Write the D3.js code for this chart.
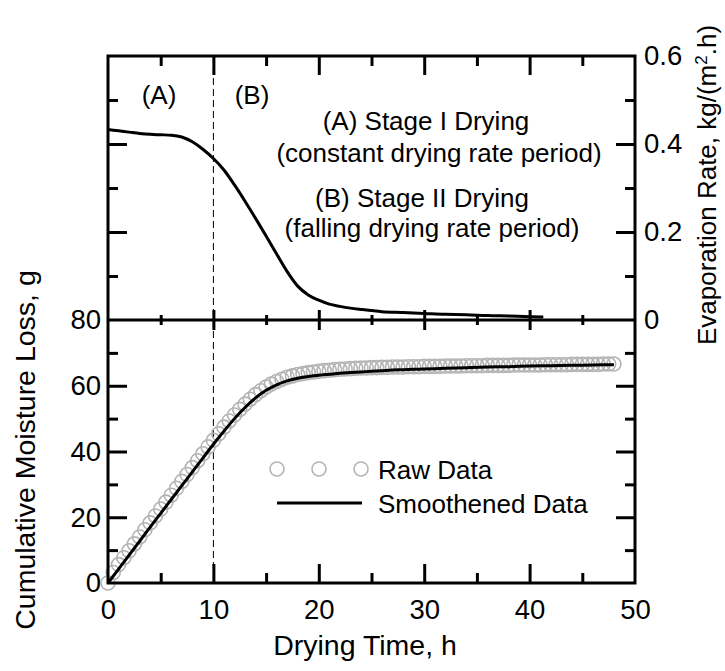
<!DOCTYPE html>
<html>
<head>
<meta charset="utf-8">
<script src="https://cdn.jsdelivr.net/npm/d3@7"></script>
<style>
  body { margin: 0; background: #fff; }
  svg text { font-family: "Liberation Sans", Arial, Helvetica, sans-serif; fill: #000; }
</style>
</head>
<body>
<div id="box"></div>
<script>
// drying time (h) of the smoothed curves
var smoothTime = [0,1,2,3,4,5,6,7,8,9,10,11,12,13,14,15,16,17,18,19,20,21,22,23,24,25,26,27,28,29,30,32,34,36,38,40,42,44,46,48];
var smoothMoisture = [0,4.2,8.5,12.7,17.0,21.2,25.4,29.6,33.8,38.0,42.2,46.2,50.0,53.4,56.3,58.6,60.3,61.5,62.3,62.8,63.2,63.5,63.8,64.0,64.2,64.4,64.6,64.8,64.9,65.0,65.1,65.3,65.5,65.7,65.8,66.0,66.1,66.2,66.3,66.4];

// raw data, one reading every half hour
var rawTime = [0,0.5,1,1.5,2,2.5,3,3.5,4,4.5,5,5.5,6,6.5,7,7.5,8,8.5,9,9.5,10,10.5,11,11.5,12,12.5,13,13.5,14,14.5,15,15.5,16,16.5,17,17.5,18,18.5,19,19.5,20,20.5,21,21.5,22,22.5,23,23.5,24,24.5,25,25.5,26,26.5,27,27.5,28,28.5,29,29.5,30,30.5,31,31.5,32,32.5,33,33.5,34,34.5,35,35.5,36,36.5,37,37.5,38,38.5,39,39.5,40,40.5,41,41.5,42,42.5,43,43.5,44,44.5,45,45.5,46,46.5,47,47.5,48];
var rawMoisture = [0,3.2,5.6,7.7,9.8,11.9,14.0,16.2,18.3,20.4,22.5,24.6,26.7,28.8,30.9,33.0,35.1,37.2,39.3,41.4,43.4,45.4,47.4,49.3,51.1,52.8,54.4,55.9,57.3,58.5,59.6,60.5,61.3,62.0,62.6,63.0,63.4,63.7,64.0,64.2,64.4,64.6,64.7,64.9,65.0,65.1,65.2,65.3,65.4,65.4,65.5,65.5,65.6,65.6,65.7,65.7,65.7,65.8,65.8,65.8,65.9,65.9,65.9,65.9,66.0,66.0,66.0,66.0,66.1,66.1,66.1,66.1,66.2,66.2,66.2,66.2,66.2,66.3,66.3,66.3,66.3,66.3,66.3,66.4,66.4,66.4,66.4,66.4,66.5,66.5,66.5,66.5,66.5,66.5,66.6,66.6,66.6];

// evaporation rate, kg/(m2.h)
var evapTime = [0,1,2,3,4,5,6,7,8,9,10,11,12,13,14,15,16,17,18,19,20,21,22,23,24,26,28,30,32,34,36,38,40,41.3];
var evapRate = [0.433,0.430,0.427,0.424,0.422,0.421,0.420,0.416,0.405,0.388,0.367,0.341,0.307,0.270,0.231,0.191,0.150,0.110,0.077,0.057,0.045,0.036,0.031,0.027,0.024,0.019,0.017,0.015,0.013,0.012,0.010,0.009,0.0075,0.007];

var xMajor = [10,20,30,40];
var xMinor = [5,15,25,35,45];
var xLabels = [0,10,20,30,40,50];
var rateMajor = [0.2,0.4];
var rateMinor = [0.1,0.3,0.5];
var rateLabels = [0,0.2,0.4,0.6];
var moistMajor = [20,40,60];
var moistMinor = [10,30,50,70];
var moistLabels = [0,20,40,60,80];
var stageBoundary = 10;

var pLeft = 108, pRight = 635, pTop = 56, pMid = 320, pBottom = 583;
var font = 26, tickFont = 27.5;

var svg = d3.select("#box").append("svg")
    .attr("width", 725)
    .attr("height", 671);

var x = d3.scaleLinear().domain([0, 50]).range([pLeft, pRight]);
var yTop = d3.scaleLinear().domain([0, 0.6]).range([pMid, pTop]);
var yBot = d3.scaleLinear().domain([0, 80]).range([pBottom, pMid]);

//tick marks only, no labels, no domain
function ticks(axis, vals, size, tx, ty) {
    var g = svg.append("g")
        .attr("transform", "translate(" + tx + "," + ty + ")")
        .call(axis.tickValues(vals).tickSize(size).tickFormat(""));
    g.select(".domain").remove();
    g.selectAll("line").attr("stroke", "#000").attr("stroke-width", 3);
    return g;
}

//labels only
function labels(axis, vals, pad, tx, ty, fmt) {
    var g = svg.append("g")
        .attr("transform", "translate(" + tx + "," + ty + ")")
        .call(axis.tickValues(vals).tickSize(0).tickPadding(pad).tickFormat(fmt));
    g.select(".domain").remove();
    g.selectAll("text").attr("font-size", tickFont).attr("fill", "#000")
        .style("font-family", "'Liberation Sans', Arial, sans-serif");
    return g;
}

var bigTick = 19, smallTick = 10;

// bottom axis (inward)
ticks(d3.axisBottom(x), xMajor, -bigTick, 0, pBottom);
ticks(d3.axisBottom(x), xMinor, -smallTick, 0, pBottom);
// top axis (inward)
ticks(d3.axisTop(x), xMajor, -bigTick, 0, pTop);
ticks(d3.axisTop(x), xMinor, -smallTick, 0, pTop);
// middle line, ticks cross it
ticks(d3.axisTop(x), xMajor, 10, 0, pMid);
ticks(d3.axisBottom(x), xMajor, 10, 0, pMid);
ticks(d3.axisTop(x), xMinor, 5, 0, pMid);
ticks(d3.axisBottom(x), xMinor, 5, 0, pMid);

// top panel left/right
ticks(d3.axisLeft(yTop), rateMajor, -bigTick, pLeft, 0);
ticks(d3.axisLeft(yTop), rateMinor, -smallTick, pLeft, 0);
ticks(d3.axisRight(yTop), rateMajor, -bigTick, pRight, 0);
ticks(d3.axisRight(yTop), rateMinor, -smallTick, pRight, 0);
// bottom panel left/right
ticks(d3.axisLeft(yBot), moistMajor, -bigTick, pLeft, 0);
ticks(d3.axisLeft(yBot), moistMinor, -smallTick, pLeft, 0);
ticks(d3.axisRight(yBot), moistMajor, -bigTick, pRight, 0);
ticks(d3.axisRight(yBot), moistMinor, -smallTick, pRight, 0);

labels(d3.axisBottom(x), xLabels, 16, 0, pBottom, d3.format("d"));
labels(d3.axisLeft(yBot), moistLabels, 7, pLeft, 0, d3.format("d"));
labels(d3.axisRight(yTop), rateLabels, 9, pRight, 0, function(d) { return d === 0 ? "0" : d3.format(".1f")(d); });

// dashed stage boundary
svg.append("line")
    .attr("x1", x(stageBoundary)).attr("x2", x(stageBoundary))
    .attr("y1", pTop).attr("y2", pBottom)
    .attr("stroke", "#000").attr("stroke-width", 1)
    .attr("stroke-dasharray", "7,4");

// raw data circles
svg.append("g").selectAll("circle")
    .data(rawTime)
    .enter().append("circle")
    .attr("cx", function(d) { return x(d); })
    .attr("cy", function(d, i) { return yBot(rawMoisture[i]); })
    .attr("r", 7)
    .attr("fill", "none")
    .attr("stroke", "#b4b4b4")
    .attr("stroke-width", 1.6);

// smoothed moisture
var moistLine = d3.line()
    .x(function(d) { return x(d); })
    .y(function(d, i) { return yBot(smoothMoisture[i]); })
    .curve(d3.curveMonotoneX);
svg.append("path").datum(smoothTime)
    .attr("d", moistLine)
    .attr("fill", "none").attr("stroke", "#000").attr("stroke-width", 3);

// evaporation rate
var evapLine = d3.line()
    .x(function(d) { return x(d); })
    .y(function(d, i) { return yTop(evapRate[i]); })
    .curve(d3.curveMonotoneX);
svg.append("path").datum(evapTime)
    .attr("d", evapLine)
    .attr("fill", "none").attr("stroke", "#000").attr("stroke-width", 3);

// frames
svg.append("rect").attr("x", pLeft).attr("y", pTop)
    .attr("width", pRight - pLeft).attr("height", pBottom - pTop)
    .attr("fill", "none").attr("stroke", "#000").attr("stroke-width", 3);
svg.append("line").attr("x1", pLeft).attr("x2", pRight).attr("y1", pMid).attr("y2", pMid)
    .attr("stroke", "#000").attr("stroke-width", 3);

// annotations
function note(txt, cx, cy) {
    svg.append("text").attr("x", cx).attr("y", cy)
        .attr("text-anchor", "middle").attr("font-size", font).text(txt);
}
note("(A)", 159, 104);
note("(B)", 252, 104);
note("(A) Stage I Drying", 426, 130);
note("(constant drying rate period)", 439, 162);
note("(B) Stage II Drying", 422, 207);
note("(falling drying rate period)", 432, 237);

// legend
var legendDots = [277, 319, 361];
svg.append("g").selectAll("circle").data(legendDots).enter().append("circle")
    .attr("cx", function(d) { return d; }).attr("cy", 469)
    .attr("r", 7).attr("fill", "none").attr("stroke", "#b4b4b4").attr("stroke-width", 1.6);
svg.append("line").attr("x1", 277).attr("x2", 362).attr("y1", 503).attr("y2", 503)
    .attr("stroke", "#000").attr("stroke-width", 3);
svg.append("text").attr("x", 378).attr("y", 479).attr("font-size", font).text("Raw Data");
svg.append("text").attr("x", 378).attr("y", 513).attr("font-size", font).text("Smoothened Data");

// axis titles
svg.append("text").attr("x", 365).attr("y", 655)
    .attr("text-anchor", "middle").attr("font-size", 28.5).text("Drying Time, h");
svg.append("text")
    .attr("transform", "translate(35,450) rotate(-90)")
    .attr("text-anchor", "middle").attr("font-size", 28.5).text("Cumulative Moisture Loss, g");
var rt = svg.append("text")
    .attr("transform", "translate(716,185) rotate(-90)")
    .attr("text-anchor", "middle").attr("font-size", font);
rt.append("tspan").text("Evaporation Rate, kg/(m");
rt.append("tspan").attr("font-size", 17).attr("dy", -9).text("2");
rt.append("tspan").attr("dy", 9).text(".h)");
</script>
</body>
</html>
